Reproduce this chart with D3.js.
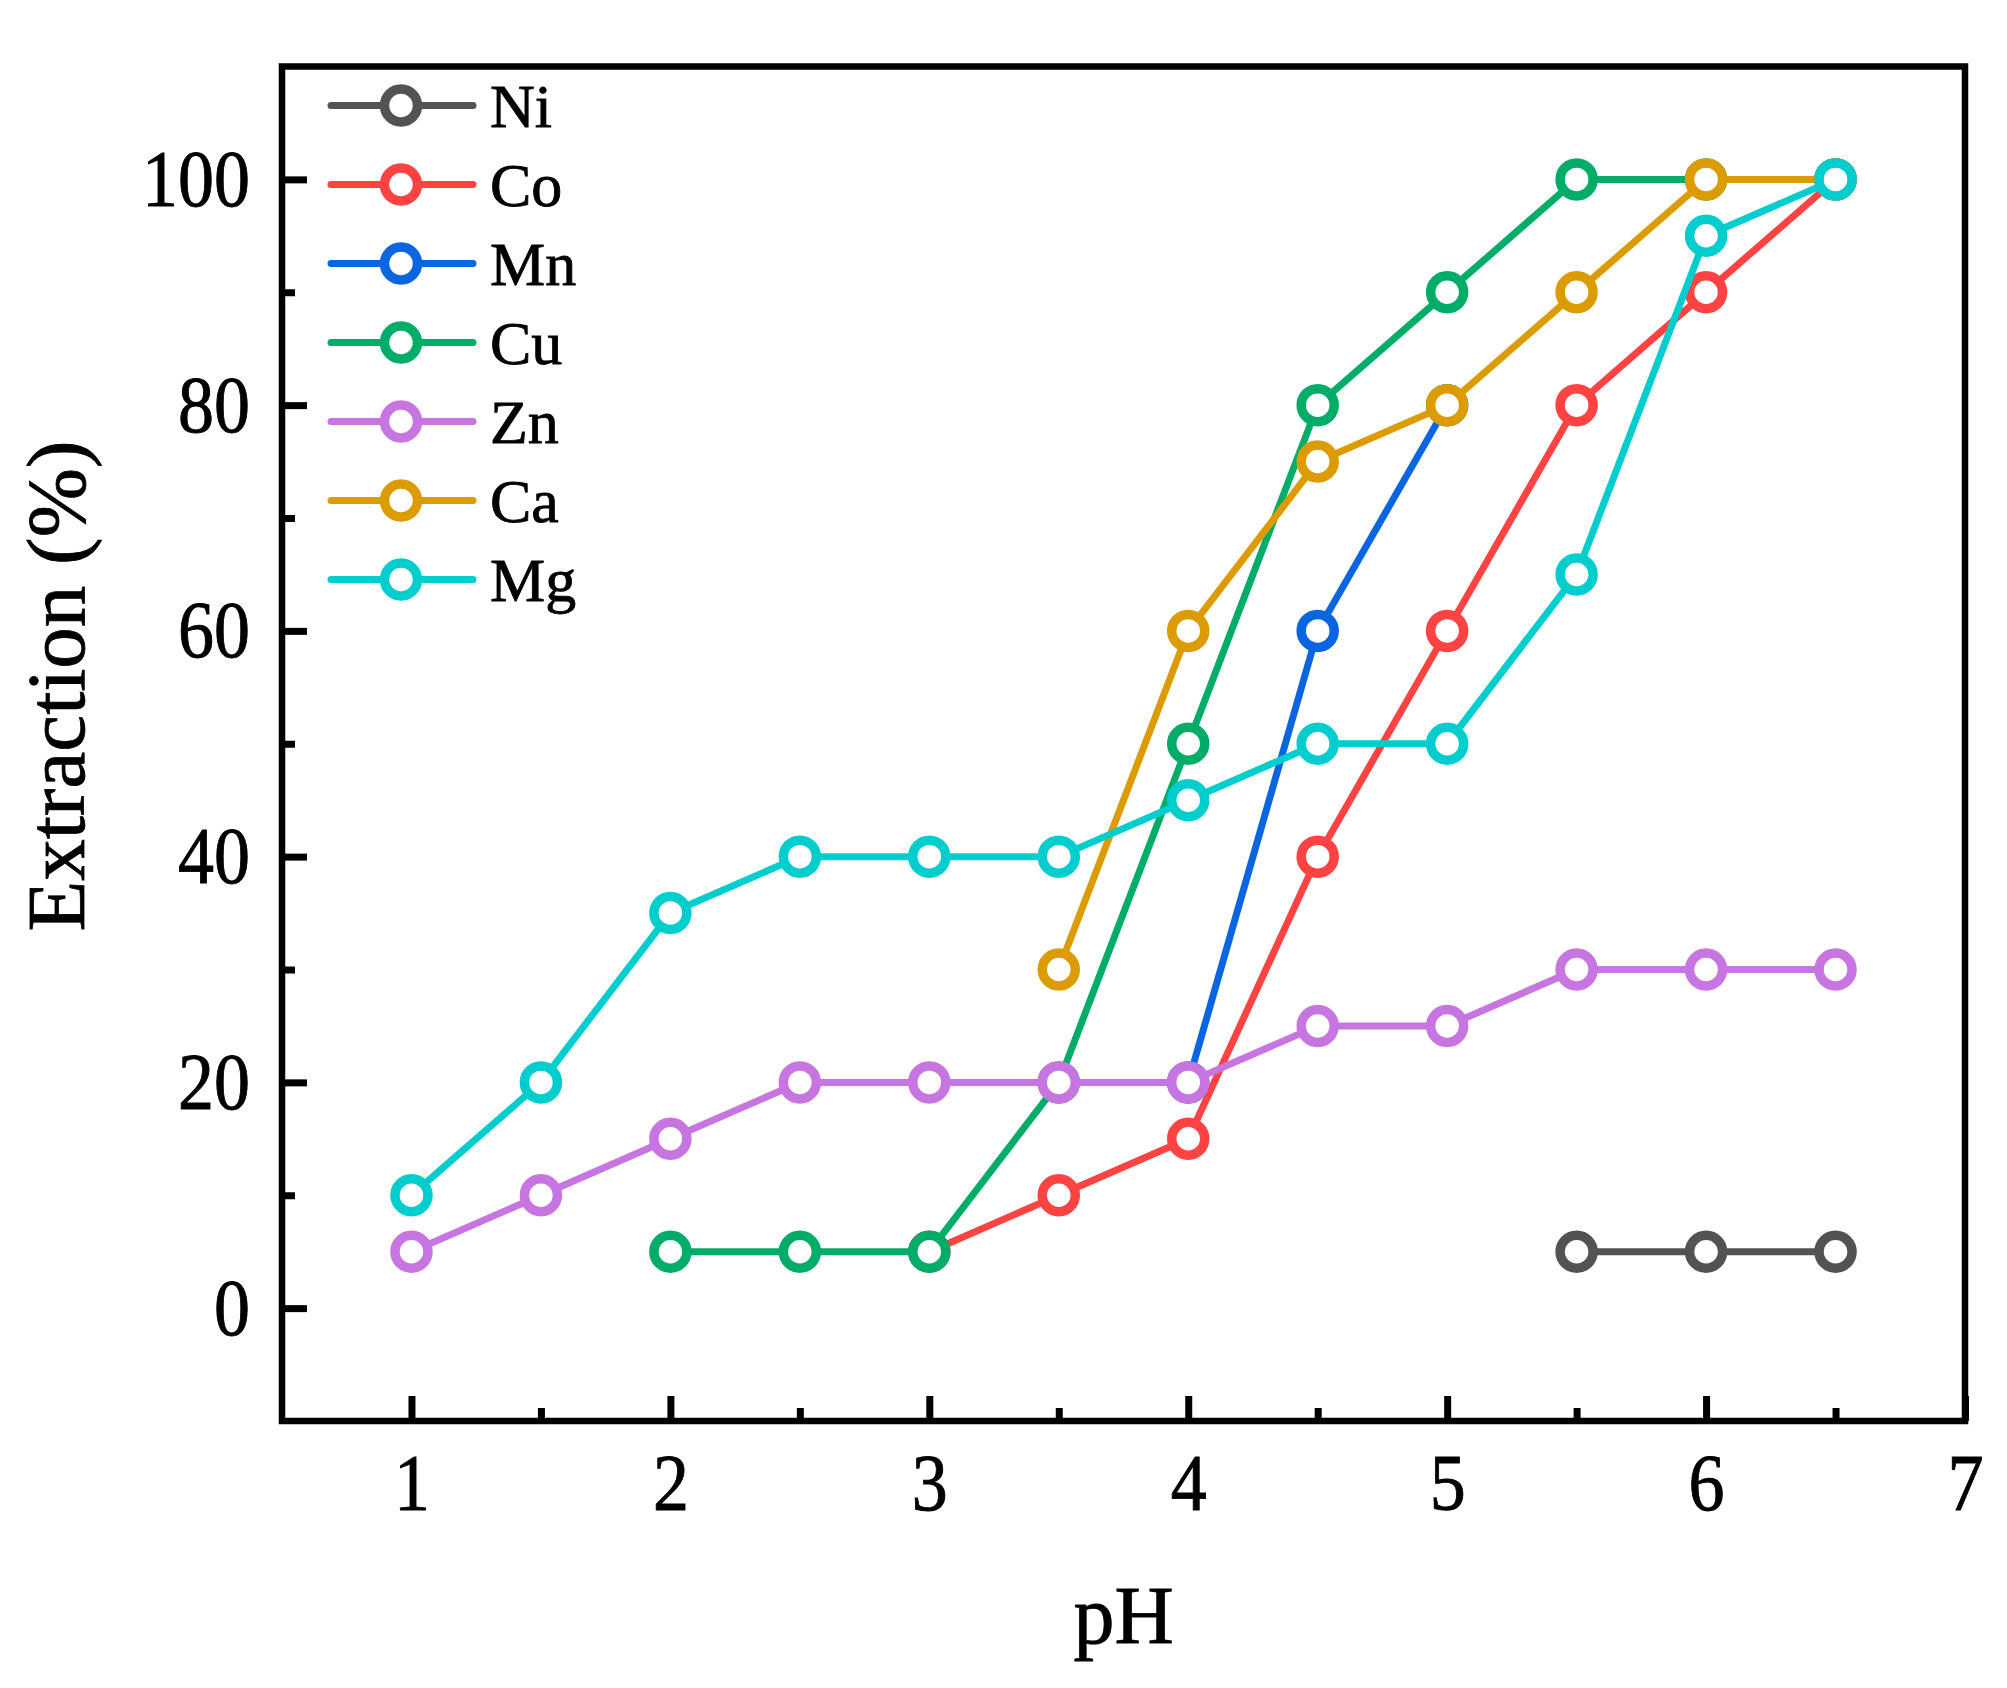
<!DOCTYPE html>
<html>
<head>
<meta charset="utf-8">
<script src="https://cdn.jsdelivr.net/npm/d3@7"></script>
<style>
  html, body { margin: 0; padding: 0; background: #fff; }
  svg { display: block; font-family: "Liberation Serif", "Times New Roman", serif; }
  text { stroke: #000; stroke-width: 0.8px; }
</style>
</head>
<body>
<svg id="chart" width="2007" height="1688"></svg>
<script>
// series names, colours and values (pH, extraction %)
const seriesNames = ["Ni", "Co", "Mn", "Cu", "Zn", "Ca", "Mg"];
const seriesColors = ["#535353", "#FF4242", "#0A66E0", "#00AD68", "#C775E0", "#DC9C00", "#00CDCD"];

const niData = [[5.5, 5], [6, 5], [6.5, 5]];
const coData = [[3, 5], [3.5, 10], [4, 15], [4.5, 40], [5, 60], [5.5, 80], [6, 90], [6.5, 100]];
const mnData = [[4, 20], [4.5, 60], [5, 80]];
const cuData = [[2, 5], [2.5, 5], [3, 5], [3.5, 20], [4, 50], [4.5, 80], [5, 90], [5.5, 100], [6, 100], [6.5, 100]];
const znData = [[1, 5], [1.5, 10], [2, 15], [2.5, 20], [3, 20], [3.5, 20], [4, 20], [4.5, 25], [5, 25], [5.5, 30], [6, 30], [6.5, 30]];
const caData = [[3.5, 30], [4, 60], [4.5, 75], [5, 80], [5.5, 90], [6, 100], [6.5, 100]];
const mgData = [[1, 10], [1.5, 20], [2, 35], [2.5, 40], [3, 40], [3.5, 40], [4, 45], [4.5, 50], [5, 50], [5.5, 65], [6, 95], [6.5, 100]];

const xTicks = [1, 2, 3, 4, 5, 6, 7];
const xMinor = [1.5, 2.5, 3.5, 4.5, 5.5, 6.5];
const yTicks = [0, 20, 40, 60, 80, 100];
const yMinor = [10, 30, 50, 70, 90];

const allData = [niData, coData, mnData, cuData, znData, caData, mgData];

const svg = d3.select("#chart");
const plotLeft = 282, plotRight = 1965, plotTop = 66.5, plotBottom = 1421;

const x = d3.scaleLinear().domain([0.5, 7]).range([plotLeft, plotRight]);
const y = d3.scaleLinear().domain([-10, 110]).range([plotBottom, plotTop]);

svg.append("rect").attr("width", 2007).attr("height", 1688).attr("fill", "#fff");

// series: line then circle markers, drawn in legend order
const line = d3.line().x(d => x(d[0])).y(d => y(d[1]));
const plot = svg.append("g");
allData.forEach((data, i) => {
  const g = plot.append("g");
  g.append("path")
    .attr("d", line(data))
    .attr("fill", "none")
    .attr("stroke", seriesColors[i])
    .attr("stroke-width", 7)
    .attr("stroke-linejoin", "round");
  g.selectAll("circle")
    .data(data)
    .join("circle")
    .attr("cx", d => x(d[0]))
    .attr("cy", d => y(d[1]))
    .attr("r", 16.5)
    .attr("fill", "#fff")
    .attr("stroke", seriesColors[i])
    .attr("stroke-width", 9.5);
});

// axes with inward ticks
const stretch = 1.13;
function styleAxis(g) {
  g.select(".domain").remove();
  g.selectAll(".tick line").attr("stroke", "#000").attr("stroke-width", 7);
}

const xAxis = svg.append("g")
  .attr("transform", `translate(0,${plotBottom})`)
  .call(d3.axisBottom(x).tickValues(xTicks).tickSize(-25).tickFormat(d3.format("d")))
  .call(styleAxis);
xAxis.selectAll(".tick text")
  .attr("font-size", 72)
  .attr("fill", "#000")
  .attr("font-family", "Liberation Serif, Times New Roman, serif")
  .attr("dy", null)
  .attr("y", 89 / stretch)
  .attr("transform", `scale(1,${stretch})`);

svg.append("g")
  .attr("transform", `translate(0,${plotBottom})`)
  .call(d3.axisBottom(x).tickValues(xMinor).tickSize(-13).tickFormat(""))
  .call(styleAxis);

const yAxis = svg.append("g")
  .attr("transform", `translate(${plotLeft},0)`)
  .call(d3.axisLeft(y).tickValues(yTicks).tickSize(-25).tickPadding(32).tickFormat(d3.format("d")))
  .call(styleAxis);
yAxis.selectAll(".tick text")
  .attr("font-size", 72)
  .attr("fill", "#000")
  .attr("font-family", "Liberation Serif, Times New Roman, serif")
  .attr("dy", null)
  .attr("y", 26 / stretch)
  .attr("transform", `scale(1,${stretch})`);

svg.append("g")
  .attr("transform", `translate(${plotLeft},0)`)
  .call(d3.axisLeft(y).tickValues(yMinor).tickSize(-13).tickFormat(""))
  .call(styleAxis);

// frame
svg.append("rect")
  .attr("x", plotLeft).attr("y", plotTop)
  .attr("width", plotRight - plotLeft).attr("height", plotBottom - plotTop)
  .attr("fill", "none").attr("stroke", "#000").attr("stroke-width", 6.5);

// axis titles
svg.append("text")
  .attr("x", (plotLeft + plotRight) / 2).attr("y", 1643)
  .attr("text-anchor", "middle").attr("font-size", 82)
  .text("pH");
svg.append("text")
  .attr("transform", "translate(84,686) rotate(-90)")
  .attr("text-anchor", "middle").attr("font-size", 83)
  .text("Extraction (%)");

// legend
const legend = svg.append("g");
const rowY = d3.scaleLinear().domain([0, 1]).range([105.5, 184.5]);
seriesNames.forEach((name, i) => {
  const cy = rowY(i);
  legend.append("line")
    .attr("x1", 331).attr("x2", 473).attr("y1", cy).attr("y2", cy)
    .attr("stroke", seriesColors[i]).attr("stroke-width", 7)
    .attr("stroke-linecap", "round");
  legend.append("circle")
    .attr("cx", 401).attr("cy", cy).attr("r", 16.5)
    .attr("fill", "#fff").attr("stroke", seriesColors[i]).attr("stroke-width", 9.5);
  legend.append("text")
    .attr("x", 490).attr("y", cy + 21.5)
    .attr("font-size", 62)
    .text(name);
});
</script>
</body>
</html>
